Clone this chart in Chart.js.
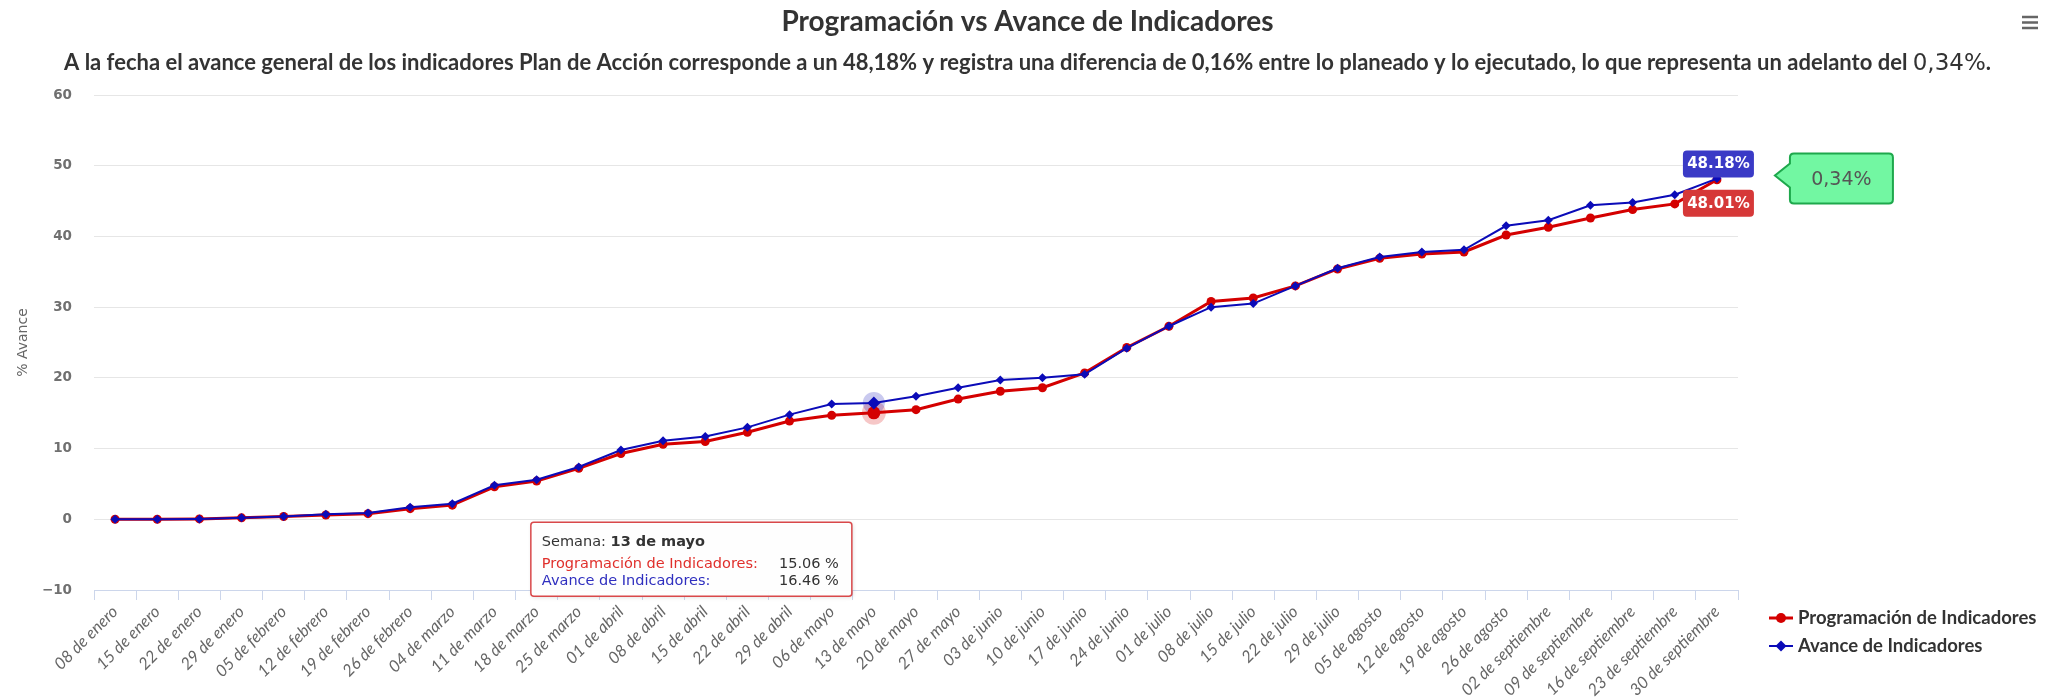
<!DOCTYPE html>
<html lang="es">
<head>
<meta charset="UTF-8">
<title>Programación vs Avance de Indicadores</title>
<script src="https://cdn.jsdelivr.net/npm/chart.js"></script>
<style>
  html, body { margin: 0; padding: 0; background: #fff; }
  canvas { display: block; }
</style>
</head>
<body>
<canvas id="chart" width="2055" height="699"></canvas>
<script>
const semanas = [
  "08 de enero", "15 de enero", "22 de enero", "29 de enero",
  "05 de febrero", "12 de febrero", "19 de febrero", "26 de febrero",
  "04 de marzo", "11 de marzo", "18 de marzo", "25 de marzo",
  "01 de abril", "08 de abril", "15 de abril", "22 de abril", "29 de abril",
  "06 de mayo", "13 de mayo", "20 de mayo", "27 de mayo",
  "03 de junio", "10 de junio", "17 de junio", "24 de junio",
  "01 de julio", "08 de julio", "15 de julio", "22 de julio", "29 de julio",
  "05 de agosto", "12 de agosto", "19 de agosto", "26 de agosto",
  "02 de septiembre", "09 de septiembre", "16 de septiembre", "23 de septiembre", "30 de septiembre"
];
const programacion = [0, 0, 0.05, 0.2, 0.4, 0.6, 0.8, 1.5, 2.0, 4.6, 5.4, 7.2, 9.3, 10.6, 11.0, 12.3, 13.9, 14.7, 15.06, 15.5, 17.0, 18.1, 18.6, 20.7, 24.3, 27.3, 30.8, 31.3, 33.0, 35.4, 36.9, 37.5, 37.8, 40.2, 41.3, 42.6, 43.8, 44.6, 48.01];
const avance = [0, 0, 0.05, 0.2, 0.4, 0.7, 0.9, 1.7, 2.2, 4.8, 5.6, 7.4, 9.8, 11.1, 11.7, 13.0, 14.8, 16.3, 16.46, 17.4, 18.6, 19.7, 20.0, 20.5, 24.2, 27.3, 30.0, 30.5, 33.0, 35.5, 37.1, 37.8, 38.1, 41.5, 42.3, 44.4, 44.8, 45.9, 48.18];
const yMin = -10, yMax = 60, yPaso = 10;

const titulo = "Programación vs Avance de Indicadores";
const subtitulo = "A la fecha el avance general de los indicadores Plan de Acción corresponde a un 48,18% y registra una diferencia de 0,16% entre lo planeado y lo ejecutado, lo que representa un adelanto del ";
const adelanto = "0,34%";
const semanaActiva = 18; // 13 de mayo, punto con tooltip

const ROJO = "#d40000";
const AZUL = "#0b0bb8";

function roundRect(ctx, x, y, w, h, r) {
  ctx.beginPath();
  ctx.moveTo(x + r, y);
  ctx.lineTo(x + w - r, y);
  ctx.quadraticCurveTo(x + w, y, x + w, y + r);
  ctx.lineTo(x + w, y + h - r);
  ctx.quadraticCurveTo(x + w, y + h, x + w - r, y + h);
  ctx.lineTo(x + r, y + h);
  ctx.quadraticCurveTo(x, y + h, x, y + h - r);
  ctx.lineTo(x, y + r);
  ctx.quadraticCurveTo(x, y, x + r, y);
  ctx.closePath();
}

// titulo, subtitulo y menu
const encabezado = {
  id: "encabezado",
  afterDraw(chart) {
    const ctx = chart.ctx;
    const cx = chart.width / 2;
    ctx.save();
    ctx.fillStyle = "#333";
    ctx.textBaseline = "alphabetic";
    ctx.textAlign = "center";
    ctx.font = "bold 28px Lato";
    ctx.fillText(titulo, cx, 31);

    const fSub = "bold 22px Lato";
    const fNum = "23px 'DejaVu Sans'";
    ctx.font = fSub;
    const w1 = ctx.measureText(subtitulo).width;
    const w3 = ctx.measureText(".").width;
    ctx.font = fNum;
    const w2 = ctx.measureText(adelanto).width;
    let x = cx - (w1 + w2 + w3) / 2;
    ctx.textAlign = "left";
    ctx.font = fSub;
    ctx.fillText(subtitulo, x, 70);
    x += w1;
    ctx.font = fNum;
    ctx.fillText(adelanto, x, 70);
    x += w2;
    ctx.font = fSub;
    ctx.fillText(".", x, 70);

    // icono menu
    ctx.strokeStyle = "#666";
    ctx.lineWidth = 2.5;
    [17, 22.5, 28].forEach(y => {
      ctx.beginPath();
      ctx.moveTo(2022, y);
      ctx.lineTo(2038, y);
      ctx.stroke();
    });
    ctx.restore();
  }
};

// halo de la semana activa
const halo = {
  id: "halo",
  beforeDatasetsDraw(chart) {
    const ctx = chart.ctx;
    ctx.save();
    [[0, "rgba(212,0,0,0.22)", 12], [1, "rgba(11,11,184,0.22)", 11]].forEach(([i, c, r]) => {
      const p = chart.getDatasetMeta(i).data[semanaActiva];
      ctx.fillStyle = c;
      ctx.beginPath();
      ctx.arc(p.x, p.y, r, 0, Math.PI * 2);
      ctx.fill();
    });
    ctx.restore();
  }
};

// etiquetas del ultimo punto y globo verde
const etiquetas = {
  id: "etiquetas",
  afterDatasetsDraw(chart) {
    const ctx = chart.ctx;
    const n = semanas.length - 1;
    const pr = chart.getDatasetMeta(0).data[n];
    const pa = chart.getDatasetMeta(1).data[n];
    ctx.save();
    ctx.font = "bold 15px 'DejaVu Sans'";
    ctx.textAlign = "center";
    ctx.textBaseline = "middle";

    ctx.fillStyle = "#3a3ac6";
    roundRect(ctx, pa.x - 34, pa.y - 28, 71, 27, 4);
    ctx.fill();
    ctx.fillStyle = "#fff";
    ctx.fillText(avance[n].toFixed(2) + "%", pa.x + 1.5, pa.y - 14);

    ctx.fillStyle = "#d63838";
    roundRect(ctx, pr.x - 34, pr.y + 10, 71, 27, 4);
    ctx.fill();
    ctx.fillStyle = "#fff";
    ctx.fillText(programacion[n].toFixed(2) + "%", pr.x + 1.5, pr.y + 24);

    // globo con la diferencia
    const bx = pa.x + 73, by = pa.y - 25, bw = 103, bh = 50;
    ctx.beginPath();
    ctx.moveTo(bx + 4, by);
    ctx.lineTo(bx + bw - 4, by);
    ctx.quadraticCurveTo(bx + bw, by, bx + bw, by + 4);
    ctx.lineTo(bx + bw, by + bh - 4);
    ctx.quadraticCurveTo(bx + bw, by + bh, bx + bw - 4, by + bh);
    ctx.lineTo(bx + 4, by + bh);
    ctx.quadraticCurveTo(bx, by + bh, bx, by + bh - 4);
    ctx.lineTo(bx, by + 34);
    ctx.lineTo(bx - 15, by + 22);
    ctx.lineTo(bx, by + 10);
    ctx.lineTo(bx, by + 4);
    ctx.quadraticCurveTo(bx, by, bx + 4, by);
    ctx.closePath();
    ctx.fillStyle = "#72f7a2";
    ctx.fill();
    ctx.strokeStyle = "#1ea84c";
    ctx.lineWidth = 2;
    ctx.stroke();
    ctx.fillStyle = "#555";
    ctx.font = "19px 'DejaVu Sans'";
    ctx.fillText(adelanto, bx + bw / 2, by + bh / 2 + 1);
    ctx.restore();
  }
};

// tooltip fijo de la semana activa
const tooltipFijo = {
  id: "tooltipFijo",
  afterDraw(chart) {
    const ctx = chart.ctx;
    const p = chart.getDatasetMeta(0).data[semanaActiva];
    const x = p.x - 343, y = chart.scales.y.getPixelForValue(0) + 3;
    const w = 321, h = 74;
    ctx.save();
    ctx.shadowColor = "rgba(0,0,0,0.15)";
    ctx.shadowBlur = 4;
    ctx.shadowOffsetX = 1;
    ctx.shadowOffsetY = 1;
    ctx.fillStyle = "rgba(255,255,255,0.96)";
    roundRect(ctx, x, y, w, h, 3);
    ctx.fill();
    ctx.shadowColor = "transparent";
    ctx.strokeStyle = "#d9484a";
    ctx.lineWidth = 1.5;
    ctx.stroke();

    ctx.textBaseline = "middle";
    ctx.textAlign = "left";
    ctx.font = "14.5px 'DejaVu Sans'";
    ctx.fillStyle = "#333";
    ctx.fillText("Semana: ", x + 11, y + 20);
    const ws = ctx.measureText("Semana: ").width;
    ctx.font = "bold 14.5px 'DejaVu Sans'";
    ctx.fillText(semanas[semanaActiva], x + 11 + ws, y + 20);

    ctx.font = "14.5px 'DejaVu Sans'";
    ctx.fillStyle = "#e0302c";
    ctx.fillText("Programación de Indicadores:", x + 11, y + 42);
    ctx.fillStyle = "#2f2fbf";
    ctx.fillText("Avance de Indicadores:", x + 11, y + 59);
    ctx.fillStyle = "#333";
    ctx.textAlign = "right";
    ctx.fillText(programacion[semanaActiva].toFixed(2) + " %", x + 308, y + 42);
    ctx.fillText(avance[semanaActiva].toFixed(2) + " %", x + 308, y + 59);
    ctx.restore();
  }
};

// leyenda a la derecha abajo
const leyenda = {
  id: "leyenda",
  afterDraw(chart) {
    const ctx = chart.ctx;
    const items = [
      { texto: chart.data.datasets[0].label, color: ROJO, y: 618, ancho: 3, forma: "circulo" },
      { texto: chart.data.datasets[1].label, color: AZUL, y: 646, ancho: 2, forma: "rombo" }
    ];
    ctx.save();
    items.forEach(it => {
      ctx.strokeStyle = it.color;
      ctx.fillStyle = it.color;
      ctx.lineWidth = it.ancho;
      ctx.beginPath();
      ctx.moveTo(1769, it.y);
      ctx.lineTo(1793, it.y);
      ctx.stroke();
      ctx.beginPath();
      if (it.forma === "circulo") {
        ctx.arc(1781, it.y, 5, 0, Math.PI * 2);
      } else {
        ctx.moveTo(1781, it.y - 5.5);
        ctx.lineTo(1786.5, it.y);
        ctx.lineTo(1781, it.y + 5.5);
        ctx.lineTo(1775.5, it.y);
        ctx.closePath();
      }
      ctx.fill();
      ctx.fillStyle = "#333";
      ctx.font = "bold 18.5px Lato";
      ctx.textBaseline = "middle";
      ctx.fillText(it.texto, 1798, it.y);
    });
    ctx.restore();
  }
};

const ctx = document.getElementById("chart").getContext("2d");
new Chart(ctx, {
  type: "line",
  data: {
    labels: semanas,
    datasets: [
      {
        label: "Programación de Indicadores",
        data: programacion,
        borderColor: ROJO,
        backgroundColor: ROJO,
        borderWidth: 3,
        pointStyle: "circle",
        pointRadius: c => (c.dataIndex === semanaActiva ? 6.5 : 4.5),
        pointBorderWidth: 0,
        tension: 0,
        order: 2
      },
      {
        label: "Avance de Indicadores",
        data: avance,
        borderColor: AZUL,
        backgroundColor: AZUL,
        borderWidth: 2,
        pointStyle: "rectRot",
        pointRadius: c => (c.dataIndex === semanaActiva ? 6.5 : 4.5),
        pointBorderWidth: 0,
        tension: 0,
        order: 1
      }
    ]
  },
  options: {
    responsive: false,
    animation: false,
    events: [],
    layout: { padding: { top: 95, right: 317, left: 0, bottom: 0 } },
    plugins: {
      legend: { display: false },
      tooltip: { enabled: false },
      title: { display: false }
    },
    scales: {
      x: {
        offset: true,
        afterFit: s => { s.height = 109; },
        grid: {
          offset: true,
          drawOnChartArea: false,
          drawTicks: true,
          tickLength: 10,
          color: "#ccd6eb"
        },
        border: { color: "#ccd6eb" },
        ticks: {
          autoSkip: false,
          minRotation: 45,
          maxRotation: 45,
          padding: 2,
          color: "#666",
          font: { family: "Lato", style: "italic", size: 16.5 }
        }
      },
      y: {
        min: yMin,
        max: yMax,
        afterFit: s => { s.width = 94; },
        grid: { color: "#e6e6e6", drawTicks: false },
        border: { display: false },
        ticks: {
          stepSize: yPaso,
          padding: 22,
          color: "#707070",
          font: { family: "DejaVu Sans", size: 13.5, weight: "bold" },
          callback: v => String(v).replace("-", "\u2212")
        },
        title: {
          display: true,
          text: "% Avance",
          color: "#666",
          padding: { top: 15, bottom: 0 },
          font: { family: "DejaVu Sans", size: 14 }
        }
      }
    }
  },
  plugins: [encabezado, halo, etiquetas, tooltipFijo, leyenda]
});
</script>
</body>
</html>
